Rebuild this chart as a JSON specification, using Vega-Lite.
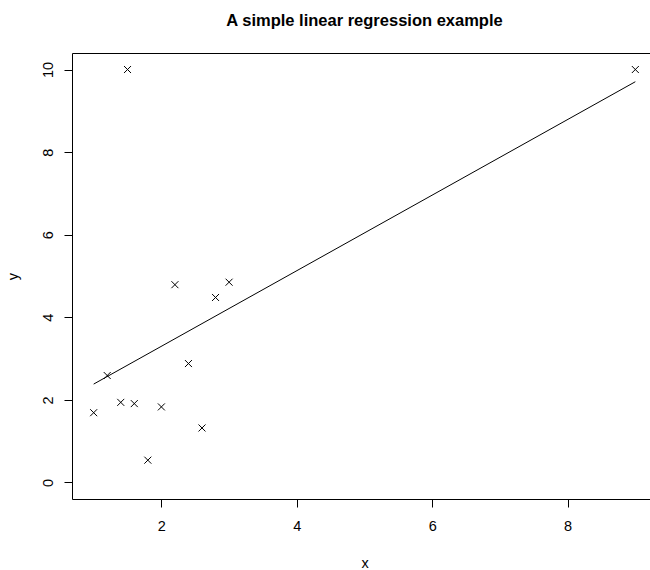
{
  "$schema": "https://vega.github.io/schema/vega-lite/v6.json",
  "autosize": "none",
  "padding": {"left": 72, "top": 53, "right": 0, "bottom": 71},
  "width": 585,
  "height": 446,
  "background": "white",
  "config": {
    "view": {"stroke": "black", "strokeWidth": 1},
    "font": "Liberation Sans"
  },
  "title": {
    "text": "A simple linear regression example",
    "font": "Liberation Sans",
    "fontSize": 16.5,
    "fontWeight": "bold",
    "color": "black",
    "anchor": "middle",
    "frame": "group",
    "baseline": "alphabetic",
    "offset": 11
  },
  "data": {
    "values": [
      {"x": 1.0, "y": 1.69},
      {"x": 1.2, "y": 2.59},
      {"x": 1.4, "y": 1.94},
      {"x": 1.6, "y": 1.91},
      {"x": 1.8, "y": 0.54},
      {"x": 2.0, "y": 1.83},
      {"x": 2.2, "y": 4.79},
      {"x": 2.4, "y": 2.88},
      {"x": 2.6, "y": 1.32},
      {"x": 2.8, "y": 4.48},
      {"x": 3.0, "y": 4.85},
      {"x": 1.5, "y": 10.0},
      {"x": 9.0, "y": 10.0}
    ]
  },
  "layer": [
    {
      "mark": {
        "type": "point",
        "shape": "M-1,-1L1,1M-1,1L1,-1",
        "filled": false,
        "stroke": "black",
        "strokeWidth": 1,
        "size": 49,
        "opacity": 1
      },
      "encoding": {
        "x": {
          "field": "x",
          "type": "quantitative",
          "scale": {"domain": [0.68, 9.32], "nice": false, "zero": false},
          "axis": {
            "values": [2, 4, 6, 8],
            "format": "d",
            "domain": false,
            "grid": false,
            "tickColor": "black",
            "tickSize": 8,
            "labelFont": "Liberation Sans",
            "labelFontSize": 14.5,
            "labelColor": "black",
            "labelBaseline": "alphabetic",
            "labelPadding": 23,
            "title": "x",
            "titleFont": "Liberation Sans",
            "titleFontSize": 14.5,
            "titleFontWeight": "normal",
            "titleColor": "black",
            "titleBaseline": "alphabetic",
            "titlePadding": 35
          }
        },
        "y": {
          "field": "y",
          "type": "quantitative",
          "scale": {"domain": [-0.4, 10.4], "nice": false, "zero": false},
          "axis": {
            "values": [0, 2, 4, 6, 8, 10],
            "format": "d",
            "domain": false,
            "grid": false,
            "tickColor": "black",
            "tickSize": 8,
            "labelFont": "Liberation Sans",
            "labelFontSize": 14.5,
            "labelColor": "black",
            "labelAngle": 270,
            "labelAlign": "center",
            "labelBaseline": "alphabetic",
            "labelPadding": 12,
            "title": "y",
            "titleFont": "Liberation Sans",
            "titleFontSize": 14.5,
            "titleFontWeight": "normal",
            "titleColor": "black",
            "titleAngle": 270,
            "titleBaseline": "alphabetic",
            "titlePadding": 23
          }
        }
      }
    },
    {
      "transform": [
        {"regression": "y", "on": "x", "extent": [1, 9]}
      ],
      "mark": {"type": "line", "color": "black", "strokeWidth": 1},
      "encoding": {
        "x": {"field": "x", "type": "quantitative"},
        "y": {"field": "y", "type": "quantitative"}
      }
    }
  ]
}
